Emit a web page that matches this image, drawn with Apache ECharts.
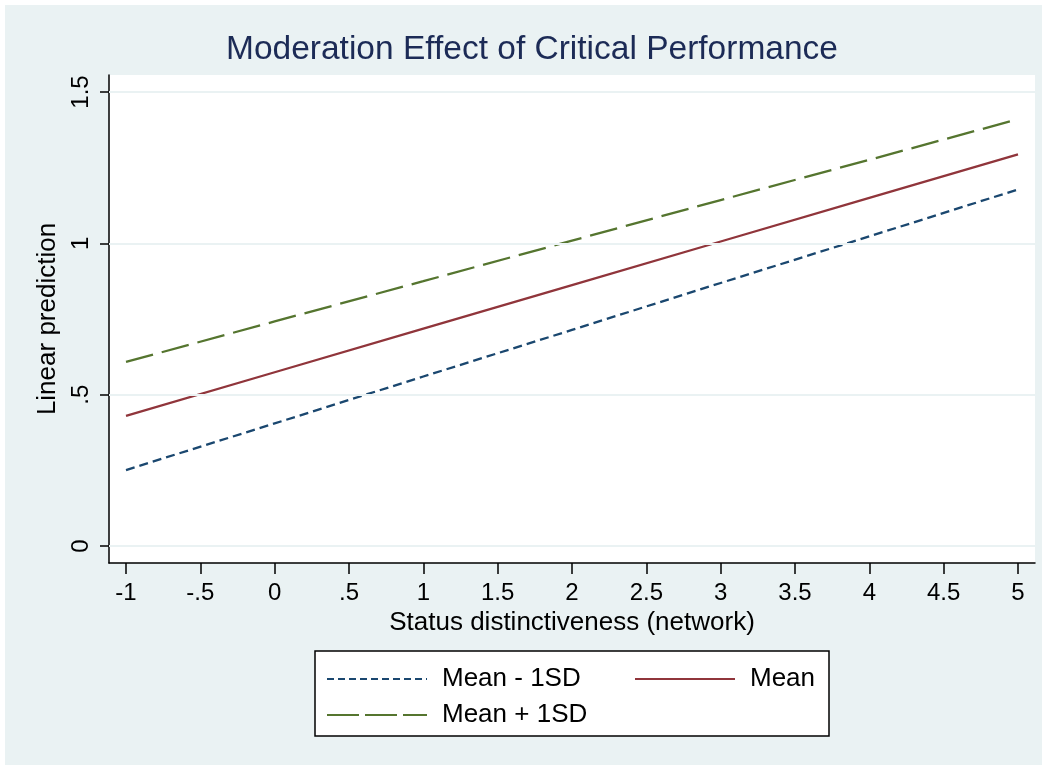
<!DOCTYPE html>
<html>
<head>
<meta charset="utf-8">
<script src="https://cdn.jsdelivr.net/npm/echarts@6/dist/echarts.min.js"></script>
<style>
  html, body { margin: 0; padding: 0; background: #ffffff; }
  #chart { width: 1047px; height: 770px; }
</style>
</head>
<body>
<div id="chart"></div>
<script>
// ---- data ----
const titleText = 'Moderation Effect of Critical Performance';
const xName = 'Status distinctiveness (network)';
const yName = 'Linear prediction';
const xValues = [-1, 0, 1, 2, 3, 4, 5];
const meanMinus1SD = [0.251, 0.405, 0.560, 0.714, 0.869, 1.023, 1.178];
const meanValues   = [0.430, 0.574, 0.718, 0.862, 1.006, 1.150, 1.294];
const meanPlus1SD  = [0.608, 0.742, 0.875, 1.009, 1.143, 1.276, 1.410];
const seriesNames = ['Mean - 1SD', 'Mean', 'Mean + 1SD'];
const xTicks = [-1, -0.5, 0, 0.5, 1, 1.5, 2, 2.5, 3, 3.5, 4, 4.5, 5];
const xTickLabels = ['-1', '-.5', '0', '.5', '1', '1.5', '2', '2.5', '3', '3.5', '4', '4.5', '5'];
const yTicks = [0, 0.5, 1, 1.5];
const yTickLabels = ['0', '.5', '1', '1.5'];

// ---- styles ----
const FONT = '"Liberation Sans", Arial, Helvetica, sans-serif';
const BG = '#eaf2f3';
const colors = ['#1a476f', '#90353b', '#55752f'];

function labelFor(ticks, labels) {
  return function (v) {
    for (let i = 0; i < ticks.length; i++) {
      if (Math.abs(ticks[i] - v) < 1e-9) return labels[i];
    }
    return '';
  };
}
function pairs(xs, ys) { return xs.map((x, i) => [x, ys[i]]); }

// plot frame (grid 0) and data grid (grid 1)
const frame = { left: 109, top: 75, right: 1035, bottom: 563 };
const inner = { left: 126, top: 92, right: 1018, bottom: 546 };
const yUnit = (inner.bottom - inner.top) / (yTicks[yTicks.length - 1] - yTicks[0]);
const yExt = (frame.bottom - inner.bottom) / yUnit;

const chart = echarts.init(document.getElementById('chart'), null, { renderer: 'canvas' });

const legendCommon = {
  padding: 0, itemWidth: 100, itemHeight: 26, itemGap: 0, z: 5,
  textStyle: { fontFamily: FONT, fontSize: 26, color: '#000', padding: [0, 0, 0, 10] },
  itemStyle: { color: 'rgba(0,0,0,0)', borderWidth: 0, opacity: 0 }
};

const option = {
  animation: false,
  backgroundColor: '#ffffff',
  textStyle: { fontFamily: FONT },
  graphic: [
    { type: 'rect', z: -10, silent: true,
      shape: { x: 5, y: 5, width: 1037, height: 760 },
      style: { fill: BG } },
    { type: 'rect', z: 1, silent: true,
      shape: { x: 315, y: 651, width: 514, height: 85 },
      style: { fill: '#ffffff', stroke: '#000000', lineWidth: 1.5 } }
  ],
  title: {
    text: titleText,
    left: 226, top: 33, padding: 0,
    textStyle: { fontFamily: FONT, fontSize: 33.5, fontWeight: 'normal', color: '#1c2b56' }
  },
  legend: [
    Object.assign({}, legendCommon, { data: [seriesNames[0]], left: 326, top: 666,
      lineStyle: { type: [7, 4], width: 2 } }),
    Object.assign({}, legendCommon, { data: [seriesNames[1]], left: 634, top: 666,
      lineStyle: { type: 'solid', width: 2 } }),
    Object.assign({}, legendCommon, { data: [seriesNames[2]], left: 326, top: 702,
      lineStyle: { type: [32, 6], width: 2 } })
  ],
  grid: [
    { left: frame.left, top: frame.top, width: frame.right - frame.left, height: frame.bottom - frame.top,
      show: true, backgroundColor: '#ffffff', borderWidth: 0, containLabel: false },
    { left: inner.left, top: inner.top, width: inner.right - inner.left, height: inner.bottom - inner.top,
      show: false, containLabel: false }
  ],
  xAxis: [
    { gridIndex: 0, type: 'value', min: 0, max: 1,
      axisLine: { show: true, onZero: false, lineStyle: { color: '#000', width: 1.5 } },
      axisTick: { show: false }, axisLabel: { show: false }, splitLine: { show: false } },
    { gridIndex: 1, type: 'value', min: xTicks[0], max: xTicks[xTicks.length - 1], interval: 0.5,
      offset: frame.bottom - inner.bottom,
      axisLine: { show: false, onZero: false },
      axisTick: { show: true, length: 11, lineStyle: { color: '#000', width: 1.5 } },
      axisLabel: { show: true, fontSize: 24, color: '#000', margin: 18, fontFamily: FONT,
        formatter: labelFor(xTicks, xTickLabels) },
      splitLine: { show: false },
      name: xName, nameLocation: 'middle', nameGap: 45,
      nameTextStyle: { fontSize: 26, color: '#000', fontFamily: FONT } }
  ],
  yAxis: [
    { gridIndex: 0, type: 'value', min: yTicks[0] - yExt, max: yTicks[yTicks.length - 1] + yExt,
      axisLine: { show: true, onZero: false, lineStyle: { color: '#000', width: 1.5 } },
      axisTick: { show: false }, axisLabel: { show: false }, splitLine: { show: false } },
    { gridIndex: 1, type: 'value', min: yTicks[0], max: yTicks[yTicks.length - 1], interval: 0.5,
      offset: inner.left - frame.left,
      axisLine: { show: false, onZero: false },
      axisTick: { show: true, length: 9, lineStyle: { color: '#000', width: 1.5 } },
      axisLabel: { show: true, fontSize: 24, color: '#000', margin: 16, rotate: 90, fontFamily: FONT,
        formatter: labelFor(yTicks, yTickLabels) },
      splitLine: { show: false },
      name: yName, nameLocation: 'middle', nameGap: 48, nameRotate: 90,
      nameTextStyle: { fontSize: 26, color: '#000', fontFamily: FONT } }
  ],
  series: [
    { type: 'line', xAxisIndex: 0, yAxisIndex: 0, data: [], silent: true, z: 1,
      markLine: { silent: true, symbol: ['none', 'none'], label: { show: false },
        lineStyle: { color: BG, width: 2, type: 'solid' },
        data: yTicks.map(v => ({ yAxis: v })) } },
    { name: seriesNames[0], type: 'line', xAxisIndex: 1, yAxisIndex: 1, data: pairs(xValues, meanMinus1SD),
      symbol: 'none', z: 3, lineStyle: { color: colors[0], width: 2.3, type: [9, 5] }, itemStyle: { color: colors[0] } },
    { name: seriesNames[1], type: 'line', xAxisIndex: 1, yAxisIndex: 1, data: pairs(xValues, meanValues),
      symbol: 'none', z: 3, lineStyle: { color: colors[1], width: 2.3, type: 'solid' }, itemStyle: { color: colors[1] } },
    { name: seriesNames[2], type: 'line', xAxisIndex: 1, yAxisIndex: 1, data: pairs(xValues, meanPlus1SD),
      symbol: 'none', z: 3, lineStyle: { color: colors[2], width: 2.3, type: [28, 9] }, itemStyle: { color: colors[2] } }
  ]
};
chart.setOption(option);
</script>
</body>
</html>
